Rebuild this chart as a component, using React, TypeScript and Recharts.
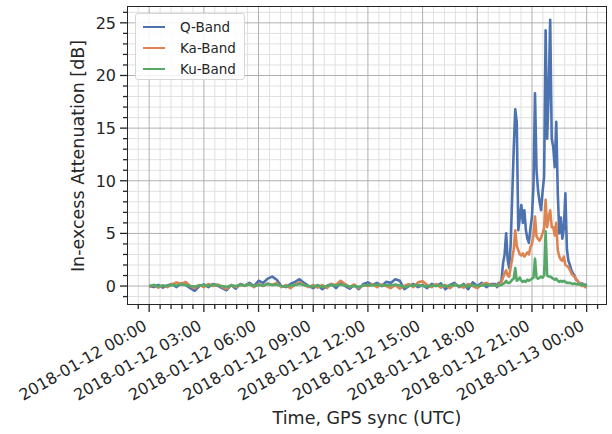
import { LineChart, Line, XAxis, YAxis, CartesianGrid } from 'recharts'

// sample times, minutes after 2018-01-12 00:00 UTC
const quietMinutes = [
  0, 15, 30, 45, 60, 75, 90, 105, 120, 135, 150, 165, 180, 195, 210, 225, 240, 255, 270, 285,
  300, 315, 330, 345, 360, 375, 390, 405, 420, 435, 450, 465, 480, 495, 510, 525, 540, 555, 570, 585,
  600, 615, 630, 645, 660, 675, 690, 705, 720, 735, 750, 765, 780, 795, 810, 825, 840, 855, 870, 885,
  900, 915, 930, 945, 960, 975, 990, 1005, 1020, 1035, 1050, 1065, 1080, 1095, 1110, 1125,
]
const stormMinutes = [
  1140, 1145, 1150, 1155, 1160, 1165, 1170, 1175, 1180, 1185, 1190, 1195, 1200, 1205, 1210, 1215,
  1220, 1225, 1230, 1235, 1240, 1245, 1250, 1255, 1260, 1265, 1270, 1275, 1280, 1285, 1290, 1295,
  1300, 1305, 1310, 1315, 1320, 1325, 1330, 1335, 1340, 1345, 1350, 1355, 1360, 1365, 1370, 1375,
  1380, 1385, 1390, 1395, 1400, 1405, 1410, 1415, 1420, 1425, 1430, 1435, 1440,
]

// attenuation [dB], quiet part (every 15 min)
const qQuiet = [
  0.0, -0.1, 0.1, -0.15, 0.05, 0.2, -0.1, 0.25, 0.1, -0.2, -0.45, 0.0, 0.15, -0.1, 0.2, 0.05,
  -0.2, -0.4, 0.1, -0.25, 0.2, 0.05, 0.3, 0.0, 0.5, 0.3, 0.7, 0.9, 0.6, 0.0, -0.1, 0.2,
  0.4, 0.65, 0.3, 0.0, -0.2, 0.1, -0.3, 0.0, 0.2, -0.2, 0.3, 0.0, -0.25, 0.1, -0.3, 0.2,
  0.35, 0.1, 0.3, 0.0, 0.4, 0.3, 0.65, 0.5, -0.3, 0.0, 0.2, -0.1, 0.1, -0.2, 0.2, 0.0,
  0.25, -0.3, 0.1, 0.3, -0.1, 0.2, -0.3, 0.35, 0.0, 0.3, -0.1, 0.2,
]
const kaQuiet = [
  -0.1, 0.1, -0.15, 0.05, -0.1, 0.15, 0.35, 0.2, 0.4, 0.0, -0.2, 0.1, -0.1, 0.2, 0.0, 0.15,
  -0.1, -0.25, 0.1, -0.1, 0.15, 0.0, 0.2, -0.1, 0.2, 0.0, 0.25, 0.1, 0.3, -0.1, 0.1, -0.2,
  0.15, 0.35, 0.1, -0.1, 0.1, -0.15, 0.1, -0.2, 0.2, 0.1, 0.5, 0.2, -0.1, 0.15, -0.2, 0.1,
  0.0, 0.2, -0.1, 0.15, 0.0, -0.2, 0.1, -0.25, 0.0, 0.2, -0.1, 0.35, 0.45, 0.1, -0.1, 0.2,
  -0.15, 0.1, -0.2, 0.15, 0.0, -0.15, 0.2, 0.0, -0.2, 0.15, 0.3, 0.1,
]
const kuQuiet = [
  0.0, 0.1, -0.05, 0.05, 0.0, 0.1, 0.05, 0.15, 0.1, 0.0, -0.05, 0.05, 0.1, 0.0, 0.15, 0.05,
  0.0, -0.1, 0.05, 0.0, 0.1, 0.05, 0.15, 0.0, 0.1, 0.05, 0.2, 0.1, 0.15, 0.0, -0.05, 0.05,
  0.1, 0.2, 0.1, 0.0, -0.05, 0.05, -0.1, 0.0, 0.1, 0.05, 0.15, 0.05, -0.05, 0.0, -0.1, 0.05,
  0.1, 0.05, 0.15, 0.0, 0.1, 0.05, 0.15, 0.05, -0.1, 0.0, 0.05, 0.1, 0.0, -0.05, 0.05, 0.0,
  0.1, -0.05, 0.05, 0.1, 0.0, 0.1, -0.05, 0.1, 0.0, 0.05, 0.15, 0.05,
]

// rain event, 19:00 - 24:00 (every 5 min)
const qStorm = [
  0.2, -0.1, 0.3, 0.1, 0.6, 2.2, 3.0, 5.0, 2.5, 1.7, 4.0, 8.5, 13.0, 16.8, 15.5, 5.3,
  6.5, 7.7, 6.0, 7.2, 5.3, 4.5, 4.1, 5.5, 6.6, 9.5, 18.3, 11.0, 9.1, 8.0, 7.2, 9.0,
  10.4, 24.3, 14.0, 18.3, 25.3, 14.0, 13.2, 11.3, 15.6, 8.8, 5.0, 6.5, 4.5, 5.5, 8.8, 3.5,
  2.4, 2.0, 1.5, 1.2, 1.0, 0.6, 0.5, 0.3, 0.2, 0.25, 0.1, 0.15, 0.0,
]
const kaStorm = [
  0.1, 0.0, 0.2, 0.1, 0.4, 0.8, 1.2, 1.5, 1.0, 0.9, 1.8, 2.6, 3.5, 5.3, 3.8, 3.4,
  3.0, 2.9, 3.1, 2.8, 3.0, 3.2, 3.0, 3.7, 4.0, 4.8, 6.6, 4.7, 4.5, 4.3, 4.6, 5.0,
  5.5, 8.2, 5.6, 6.5, 7.2, 5.6, 5.6, 4.8, 6.0, 3.4, 2.8, 2.5, 2.4, 2.8, 2.0, 1.9,
  1.8, 1.5, 1.2, 1.0, 0.9, 0.7, 0.5, 0.3, 0.2, 0.0, 0.1, -0.1, -0.1,
]
const kuStorm = [
  0.05, 0.1, 0.0, 0.1, 0.1, 0.2, 0.3, 0.5, 0.3, 0.3, 0.4, 0.6, 0.7, 1.7, 0.5, 0.6,
  0.8, 0.5, 0.4, 0.5, 0.4, 0.6, 0.5, 0.6, 0.7, 0.8, 2.6, 0.8, 0.7, 0.8, 0.9, 0.8,
  1.0, 5.2, 1.0, 0.9, 0.9, 0.8, 0.7, 0.6, 0.7, 0.5, 0.4, 0.5, 0.4, 0.5, 0.4, 0.3,
  0.3, 0.3, 0.25, 0.2, 0.25, 0.2, 0.15, 0.2, 0.1, 0.15, 0.1, 0.05, 0.1,
]

const seriesNames = ['Q-Band', 'Ka-Band', 'Ku-Band']
const seriesKeys = ['q', 'ka', 'ku']
const seriesColors = ['#4c72b0', '#dd8452', '#55a868']

const majorXTicks = [0, 180, 360, 540, 720, 900, 1080, 1260, 1440]
const majorXLabels = [
  '2018-01-12 00:00', '2018-01-12 03:00', '2018-01-12 06:00', '2018-01-12 09:00', '2018-01-12 12:00',
  '2018-01-12 15:00', '2018-01-12 18:00', '2018-01-12 21:00', '2018-01-13 00:00',
]
const xTicks = [
  -36, 0, 36, 72, 108, 144, 180, 216, 252, 288, 324, 360, 396, 432, 468, 504, 540, 576, 612, 648, 684,
  720, 756, 792, 828, 864, 900, 936, 972, 1008, 1044, 1080, 1116, 1152, 1188, 1224, 1260, 1296, 1332,
  1368, 1404, 1440, 1476,
]
const majorYTicks = [0, 5, 10, 15, 20, 25]
const yTicks = [-1, 0, 1, 2, 3, 4, 5, 6, 7, 8, 9, 10, 11, 12, 13, 14, 15, 16, 17, 18, 19, 20, 21, 22, 23, 24, 25, 26]

const minutes = [...quietMinutes, ...stormMinutes]
const qVals = [...qQuiet, ...qStorm]
const kaVals = [...kaQuiet, ...kaStorm]
const kuVals = [...kuQuiet, ...kuStorm]
const rows = minutes.map((m, i) => ({ m, q: qVals[i], ka: kaVals[i], ku: kuVals[i] }))

const INK = '#262626'
const FONT = '"DejaVu Sans", sans-serif'

const YTick = (props: any) => {
  const { x, y, payload } = props
  const major = majorYTicks.includes(payload.value)
  return (
    <g>
      <line x1={x - (major ? 7 : 4)} x2={x} y1={y} y2={y} stroke={INK} strokeWidth={1.3} />
      {major && (
        <text x={x - 11} y={y} dy="0.36em" textAnchor="end" fontSize={16} fontFamily={FONT} fill={INK}>
          {payload.value}
        </text>
      )}
    </g>
  )
}

const XTick = (props: any) => {
  const { x, y, payload } = props
  const idx = majorXTicks.indexOf(payload.value)
  const major = idx >= 0
  return (
    <g>
      <line x1={x} x2={x} y1={y} y2={y + (major ? 7 : 4)} stroke={INK} strokeWidth={1.3} />
      {major && (
        <text
          x={x - 1} y={y + 24} textAnchor="end" fontSize={16} fontFamily={FONT} fill={INK}
          transform={`rotate(-30 ${x - 1} ${y + 24})`}
        >
          {majorXLabels[idx]}
        </text>
      )}
    </g>
  )
}

export default function App() {
  return (
    <div style={{ position: 'absolute', left: 0, top: 0, width: 612, height: 434, background: '#fff' }}>
      <LineChart width={612} height={434} data={rows} margin={{ top: 6, right: 5, bottom: 99, left: 67 }}>
        <CartesianGrid
          stroke="#e0e0e0" strokeWidth={1}
          horizontalValues={yTicks.filter((v) => !majorYTicks.includes(v))}
          verticalValues={xTicks.filter((v) => !majorXTicks.includes(v))}
        />
        <CartesianGrid stroke="#b0b0b0" strokeWidth={1} horizontalValues={majorYTicks} verticalValues={majorXTicks} />
        <XAxis
          dataKey="m" type="number" domain={[-73, 1507]} allowDataOverflow ticks={xTicks} interval={0}
          tickSize={0} tickMargin={0} tickLine={false} axisLine={false} height={30} tick={<XTick />}
        />
        <YAxis
          type="number" domain={[-1.8, 26.6]} allowDataOverflow ticks={yTicks} interval={0}
          tickSize={0} tickMargin={0} tickLine={false} axisLine={false} width={60} tick={<YTick />}
        />
        {seriesKeys.map((k, i) => (
          <Line
            key={k} type="linear" dataKey={k} name={seriesNames[i]} stroke={seriesColors[i]}
            strokeWidth={2.6} strokeLinejoin="round" dot={false} activeDot={false} isAnimationActive={false}
          />
        ))}
      </LineChart>

      {/* frame */}
      <div style={{ position: 'absolute', left: 127, top: 6, width: 480, height: 299, boxSizing: 'border-box', border: `1.5px solid ${INK}`, pointerEvents: 'none' }} />

      {/* legend */}
      <div style={{
        position: 'absolute', left: 135, top: 13, width: 110, height: 67, boxSizing: 'border-box',
        background: 'rgba(255,255,255,0.85)', border: '1px solid #d6d6d6', borderRadius: 3,
        fontFamily: FONT, fontSize: 13.5, color: INK,
      }}>
        {seriesNames.map((n, i) => (
          <div key={n} style={{ position: 'absolute', left: 7, top: 3 + i * 21, height: 20, display: 'flex', alignItems: 'center' }}>
            <span style={{ display: 'inline-block', width: 22, height: 2, background: seriesColors[i], marginRight: 15 }} />
            <span>{n}</span>
          </div>
        ))}
      </div>

      {/* axis titles */}
      <div style={{ position: 'absolute', left: 367, top: 418, transform: 'translate(-50%, -50%)', whiteSpace: 'nowrap', fontFamily: FONT, fontSize: 17.5, color: INK }}>
        Time, GPS sync (UTC)
      </div>
      <div style={{ position: 'absolute', left: 78, top: 156, transform: 'translate(-50%, -50%) rotate(-90deg)', whiteSpace: 'nowrap', fontFamily: FONT, fontSize: 17.5, color: INK }}>
        In-excess Attenuation [dB]
      </div>
    </div>
  )
}
